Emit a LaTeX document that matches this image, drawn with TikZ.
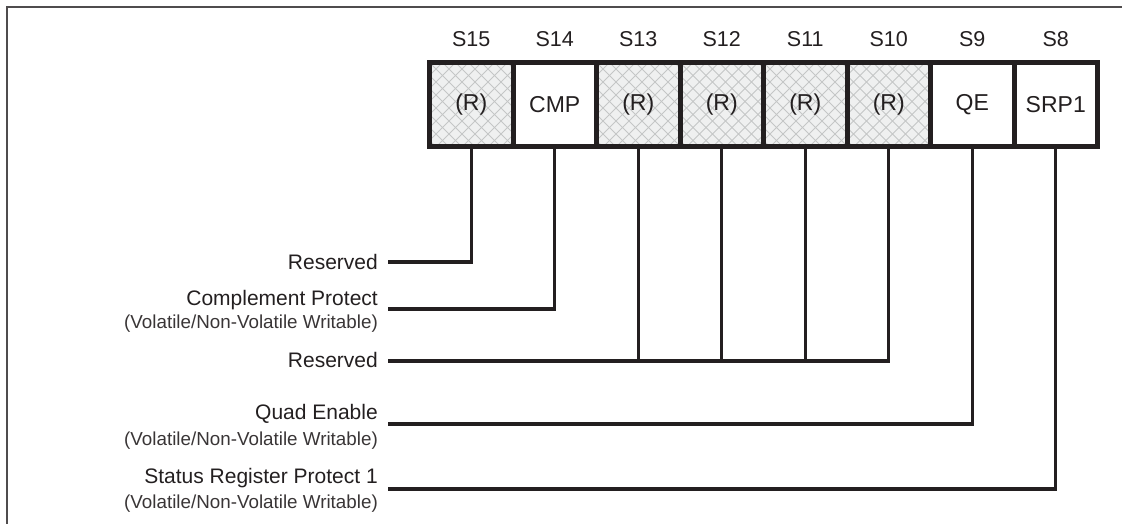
\documentclass[tikz,border=0pt]{standalone}
\usepackage{fontspec}
\setmainfont{Liberation Sans}
\definecolor{hatchbg}{HTML}{EFF0F0}
\definecolor{hatchln}{HTML}{C4C6C6}
\definecolor{ink}{HTML}{231F20}
\begin{document}
\begin{tikzpicture}[x=1pt,y=-1pt,
  cell/.style={draw=ink,line width=5pt,minimum width=83.5pt,minimum height=84pt,inner sep=0pt,outer sep=0pt,text=ink,font=\fontsize{23}{27}\selectfont},
  bitlbl/.style={inner sep=0pt,text=ink,font=\fontsize{21.5}{25}\selectfont},
  mainlbl/.style={inner sep=0pt,anchor=base east,font=\fontsize{21}{25}\selectfont,text=ink},
  sublbl/.style={inner sep=0pt,anchor=base east,font=\fontsize{18.8}{22}\selectfont,text=ink!90},
  conn/.style={draw=ink,line width=3.3pt},
  frame/.style={draw=ink!80,line width=2pt}]
\useasboundingbox (0,0) rectangle (1122,524);
% frame
\coordinate (fbl) at (7,524);
\coordinate (ftl) at (7,7);
\coordinate (ftr) at (1122,7);
\draw[frame] (fbl) -- (ftl) -- (ftr);
% hatched backgrounds of reserved cells
\foreach \i in {0,2,3,4,5}{
  \begin{scope}
    \clip (429.5+83.5*\i,62.5) rectangle ++(83.5,84);
    \fill[hatchbg] (429.5+83.5*\i,62.5) rectangle ++(83.5,84);
    \foreach \k in {-8,...,16}{
      \draw[hatchln,line width=0.8pt] (429.5+83.5*\i+13*\k,62.5) -- ++(90,90);
      \draw[hatchln,line width=0.8pt] (429.5+83.5*\i+13*\k,62.5) -- ++(-90,90);
    }
  \end{scope}
}
% cells
\node[cell] (c15) at (471.25,104.5) {(R)};
\node[cell] (c14) at (554.75,104.5) {CMP};
\node[cell] (c13) at (638.25,104.5) {(R)};
\node[cell] (c12) at (721.75,104.5) {(R)};
\node[cell] (c11) at (805.25,104.5) {(R)};
\node[cell] (c10) at (888.75,104.5) {(R)};
\node[cell] (c9)  at (972.25,104.5) {QE};
\node[cell] (c8)  at (1055.75,104.5) {SRP1};
% bit labels
\foreach \n/\t in {15/S15,14/S14,13/S13,12/S12,11/S11,10/S10,9/S9,8/S8}{
  \node[bitlbl,anchor=base] (b\n) at (c\n.center |- 0,47) {\t};
}
% left labels
\node[mainlbl] (lres1) at (378,269) {Reserved};
\node[mainlbl] (lcmp)  at (378,305) {Complement Protect};
\node[sublbl]  (lcmps) at (378,328) {(Volatile/Non-Volatile Writable)};
\node[mainlbl] (lres2) at (378,367) {Reserved};
\node[mainlbl] (lqe)   at (378,419) {Quad Enable};
\node[sublbl]  (lqes)  at (378,445) {(Volatile/Non-Volatile Writable)};
\node[mainlbl] (lsrp)  at (378,483) {Status Register Protect 1};
\node[sublbl]  (lsrps) at (378,508) {(Volatile/Non-Volatile Writable)};
% connector ends
\coordinate (e1) at (388,262);
\coordinate (e2) at (388,309);
\coordinate (e3) at (388,361);
\coordinate (e4) at (388,424);
\coordinate (e5) at (388,489);
% connectors
\draw[conn] (c15.south) |- (e1);
\draw[conn] (c14.south) |- (e2);
\draw[conn] (c10.south) |- (e3);
\draw[conn] (c13.south) -- (c13.south |- e3);
\draw[conn] (c12.south) -- (c12.south |- e3);
\draw[conn] (c11.south) -- (c11.south |- e3);
\draw[conn] (c9.south) |- (e4);
\draw[conn] (c8.south) |- (e5);
\end{tikzpicture}
\end{document}
